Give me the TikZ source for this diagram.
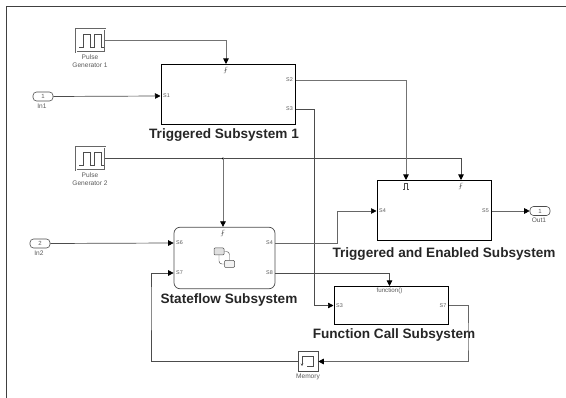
\documentclass[tikz,border=0pt]{standalone}
\usepackage{fontspec}
\setmainfont{Liberation Sans}
\usetikzlibrary{arrows.meta}
\definecolor{sigline}{gray}{0.3}
\definecolor{portgray}{gray}{0.35}
\tikzset{
  block/.style = {draw=black, line width=1pt, minimum width=#1, inner sep=0pt},
  subsys/.style = {font=\bfseries\fontsize{13.6}{14}\selectfont, inner sep=0pt, text=black!85},
  port/.style = {font=\fontsize{5.4}{6}\selectfont, inner sep=0pt, text=portgray},
  caption/.style = {font=\fontsize{6.6}{7}\selectfont, inner sep=0pt, align=center, text=portgray},
  inport/.style = {draw=sigline, rounded corners=3.5pt, minimum width=20pt, minimum height=9pt,
    inner sep=0pt, font=\fontsize{6}{6}\selectfont, text=portgray, line width=.6pt},
  source/.style = {draw=black!60, double=white, double distance=.7pt, line width=.5pt,
    minimum width=29pt, minimum height=23pt, inner sep=0pt},
  sig/.style = {draw=sigline, line width=.7pt, -{Triangle[length=5.5pt,width=5.5pt,black]}},
  icon/.style = {draw=sigline, line width=.6pt}
}
\newcommand{\pulsewave}[1]{% pulse shape in a source block
  \draw[icon] ([shift={(-11.5,7)}]#1.center) -- ++(4,0) -- ++(0,-13) -- ++(7.5,0) -- ++(0,13)
    -- ++(4,0) -- ++(0,-13) -- ++(7,0) -- ++(0,13) -- ++(2,0);}
\newcommand{\fallsym}[1]{% trigger mark
  \draw[icon, line width=.45pt] ([shift={(-2.5,3)}]#1) -- ++(1.5,0) -- ++(1,-6) -- ++(2,0)
    ([shift={(-1.5,.3)}]#1) -- ++(2.5,-.6);}

\begin{document}
\begin{tikzpicture}[x=1pt,y=-1pt]
    \useasboundingbox (0,0) rectangle (566,398);
    \coordinate (frameb) at (6,398);
    \coordinate (framec) at (6,7);
    \coordinate (framer) at (566,7);
    \draw[black!75, line width=1pt] (frameb) -- (framec) -- (framer);

    % sources
    \node [source] (pulse1) at (90.5,40.5) {};
    \node [source] (pulse2) at (90.5,158.5) {};
    \node [caption] (pulse1txt) at (90,61.5) {Pulse\\[1pt]Generator 1};
    \node [caption] (pulse2txt) at (90,179.5) {Pulse\\[1pt]Generator 2};
    \pulsewave{pulse1}
    \pulsewave{pulse2}
    \node [inport] (in1) at (43,96.5) {1};
    \node [caption] (in1txt) at (42,106.5) {In1};
    \node [inport] (in2) at (40,243.5) {2};
    \node [caption] (in2txt) at (39,253.5) {In2};
    \node [inport] (out1) at (540,211) {1};
    \node [caption] (out1txt) at (539,220.5) {Out1};

    % subsystems
    \node [block=134pt, minimum height=60.5pt] (trig) at (228,94.75) {};
    \node [block=114pt, minimum height=60.5pt] (both) at (434,210.75) {};
    \node [block=114.5pt, minimum height=38.5pt] (func) at (391.25,305.75) {};
    \node [block=101pt, minimum height=61.5pt, draw=black!70, line width=.7pt, rounded corners=6pt] (chart) at (224.5,258) {};
    \node [draw=sigline, line width=.6pt, minimum width=20pt, minimum height=20pt, inner sep=0pt] (memory) at (308,361.5) {};
    \node [caption] (memorytxt) at (308,376.5) {Memory};

    \node [subsys] (trigtxt) at (224,135.5) {Triggered Subsystem 1};
    \node [subsys] (bothtxt) at (444,254) {Triggered and Enabled Subsystem};
    \node [subsys] (chart_txt) at (229,299.5) {Stateflow Subsystem};
    \node [subsys] (functxt) at (394,334.5) {Function Call Subsystem};

    % port names
    \node [port, anchor=west] (s1) at (163,96) {S1};
    \node [port, anchor=east] (s2) at (293,80) {S2};
    \node [port, anchor=east] (s3) at (293,109) {S3};
    \node [port, anchor=west] (s6) at (176,243) {S6};
    \node [port, anchor=west] (s7) at (176,273) {S7};
    \node [port, anchor=east] (s4) at (273,243) {S4};
    \node [port, anchor=east] (s8) at (273,273) {S8};
    \node [port, anchor=west] (s4b) at (379,211) {S4};
    \node [port, anchor=east] (s5) at (489,211) {S5};
    \node [port, anchor=west] (s3b) at (336,305.5) {S3};
    \node [port, anchor=east] (s7b) at (446.5,305.5) {S7};
    \node [port, font=\fontsize{6.2}{6}\selectfont] (fcall) at (389.5,291) {function()};

    % trigger marks
    \coordinate (trigmark) at (226,70);
    \coordinate (chartmark) at (223,233);
    \coordinate (risemark) at (406,186);
    \coordinate (fallmark) at (461,186);
    \fallsym{trigmark}
    \fallsym{chartmark}
    \fallsym{fallmark}
    \draw[icon, line width=.45pt] ([shift={(-3,3)}]risemark) -- ++(1.5,0) -- ++(0,-6) -- ++(3,0) -- ++(0,6) -- ++(1.5,0);

    % stateflow and memory icons
    \node [draw=sigline, fill=black!12, rounded corners=1pt, minimum width=10pt, minimum height=7pt, inner sep=0pt, line width=.5pt] (statea) at (219,251.5) {};
    \node [draw=sigline, fill=black!5, rounded corners=1pt, minimum width=10pt, minimum height=7pt, inner sep=0pt, line width=.5pt] (stateb) at (229.5,264) {};
    \draw[icon, line width=.45pt, rounded corners=3pt] (statea.east) -| (stateb.north);
    \draw[icon, line width=.45pt, rounded corners=3pt] (stateb.west) -| (statea.south);
    \coordinate (memmark) at (308,361.5);
    \draw[icon, line width=.5pt, {Stealth[length=2.5pt,width=2.5pt]}-] ([shift={(-6,4.5)}]memmark) -- ++(0,-10) -- ++(11,0) -- ++(0,10) -- ++(-6,0);

    % trigger lines
    \coordinate (j1) at (trig.north -| trigmark);
    \coordinate (j2) at (chart.north -| chartmark);
    \coordinate (j3) at (both.north -| risemark);
    \coordinate (j4) at (both.north -| fallmark);
    \coordinate (j5) at (func.north -| fcall);
    \draw [sig, draw=black!55] (pulse1.east) -| (j1);
    \draw [sig] (pulse2.east) -| (j4);
    \coordinate (jct) at (pulse2.east -| chartmark);
    \fill [black] (jct) circle (1.1pt);
    \draw [sig, draw=black!55] (jct) -- (j2);
    \draw [sig, draw=black!55] (trig.east |- s2) -| (j3);
    \draw [sig] (chart.east |- s8) -| (j5);

    % data lines
    \draw [sig] (in1.east) -- (trig.west |- s1);
    \draw [sig] (in2.east) -- (chart.west |- s6);
    \draw [sig] (trig.east |- s3) -| (314.5,290) |- (func.west |- s3b);
    \draw [sig, draw=black!60] (chart.east |- s4) -| (337.5,230) |- (both.west |- s4b);
    \draw [sig, draw=black!60] (both.east |- s5) -- (out1.west);
    \draw [sig, draw=black!60] (func.east |- s7b) -| (468,340) |- (memory.east);
    \draw [sig] (memory.west) -| (151,300) |- (chart.west |- s7);
\end{tikzpicture}
\end{document}
